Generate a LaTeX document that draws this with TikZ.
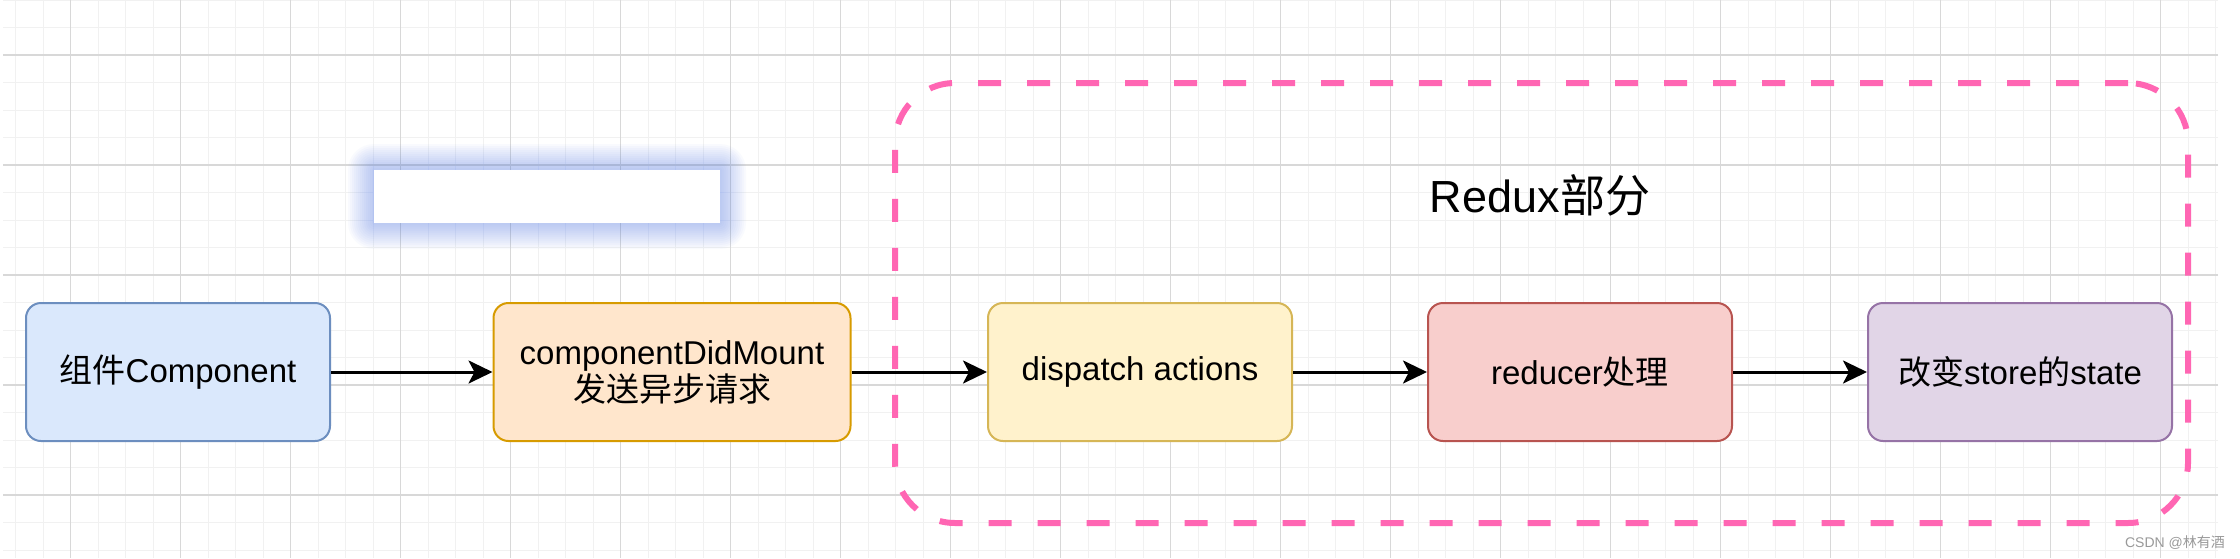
\documentclass[tikz,border=0pt]{standalone}
\usepackage{amsmath}
\usepackage{fontspec}
\setmainfont{Liberation Sans}
\newfontfamily\cjk{Noto Sans CJK SC}
\usetikzlibrary{arrows.meta}

\definecolor{blueFill}{HTML}{DAE8FC}
\definecolor{blueLine}{HTML}{6C8EBF}
\definecolor{orangeFill}{HTML}{FFE6CC}
\definecolor{orangeLine}{HTML}{D79B00}
\definecolor{yellowFill}{HTML}{FFF2CC}
\definecolor{yellowLine}{HTML}{D6B656}
\definecolor{redFill}{HTML}{F8CECC}
\definecolor{redLine}{HTML}{B85450}
\definecolor{purpleFill}{HTML}{E1D5E7}
\definecolor{purpleLine}{HTML}{9673A6}
\definecolor{pinkDash}{HTML}{FF66B3}
\definecolor{glowBlue}{RGB}{90,130,240}
\definecolor{gridMajor}{RGB}{216,216,216}
\definecolor{gridMinor}{RGB}{241,241,241}

\begin{document}
\begin{tikzpicture}[x=0.5pt,y=-0.5pt,
  box/.style={shape=rectangle,rounded corners=7.5pt,line width=1pt,
    minimum width=152pt,minimum height=69pt,inner sep=0pt,align=center,
    font=\fontsize{16.5}{18.5}\selectfont},
  flow/.style={-{Stealth[length=12pt,width=11.5pt,inset=3pt]},line width=1.5pt},
  group/.style={shape=rectangle,draw=pinkDash,line width=3pt,rounded corners=30pt,
    dash pattern=on 11.5pt off 13pt,minimum width=646.5pt,minimum height=220pt},
  minorline/.style={draw=gridMinor,line width=0.5pt},
  majorline/.style={draw=gridMajor,line width=0.6pt}]
\useasboundingbox (0,0) rectangle (2240,558);
\fill[white] (0,0) rectangle (2240,558);
% grid
\foreach \i in {-2,...,78}
  \draw[minorline] ({70.8+27.5*\i},0) -- ({70.8+27.5*\i},558);
\foreach \j in {0,...,20}
  \draw[minorline] (3,{27.5*\j}) -- (2218,{27.5*\j});
\foreach \i in {0,...,19}
  \draw[majorline] ({70.8+110*\i},0) -- ({70.8+110*\i},558);
\foreach \j in {0,...,4}
  \draw[majorline] (3,{55+110*\j}) -- (2218,{55+110*\j});
% white mask with glow
\foreach \g in {26,24,...,2}
  \fill[glowBlue,opacity=0.035,rounded corners=\g*0.5pt]
    ({374-\g},{170-\g}) rectangle ({720+\g},{223+\g});
\node[shape=rectangle,fill=white,inner sep=0pt,minimum width=173pt,minimum height=26.5pt] (M) at (547,196.5) {};
% redux group
\node[group] (G) at (1541.5,303) {};
\node[font=\fontsize{22.5}{24}\selectfont] (T) at (1540,195) {Redux{\cjk 部分}};
% flow
\node[box,fill=blueFill,draw=blueLine] (A) at (178,372) {{\cjk 组件}Component};
\node[box,fill=orangeFill,draw=orangeLine,minimum width=178.5pt] (B) at (672,372) {componentDidMount\\{\cjk 发送异步请求}};
\node[box,fill=yellowFill,draw=yellowLine] (C) at (1140,372) {dispatch actions};
\node[box,fill=redFill,draw=redLine] (D) at (1580,372) {reducer{\cjk 处理}};
\node[box,fill=purpleFill,draw=purpleLine] (E) at (2020,372) {{\cjk 改变}store{\cjk 的}state};
\path [flow] (A) edge (B);
\path [flow] (B) edge (C);
\path [flow] (C) edge (D);
\path [flow] (D) edge (E);
% watermark
\node[text=black!40,font=\fontsize{7}{8}\selectfont] (W) at (2175,543) {CSDN @{\cjk 林有酒}};
\end{tikzpicture}
\end{document}
